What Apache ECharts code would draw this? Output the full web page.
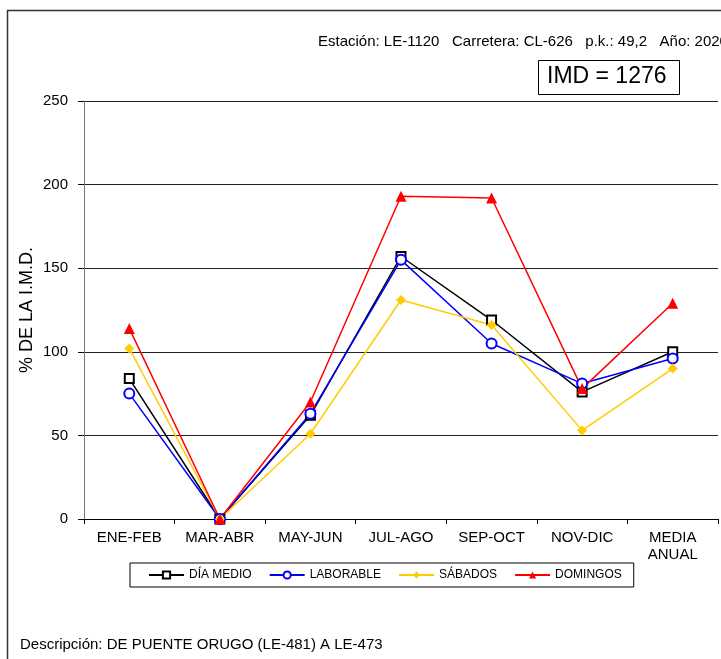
<!DOCTYPE html>
<html>
<head>
<meta charset="utf-8">
<script src="https://cdn.jsdelivr.net/npm/echarts@6/dist/echarts.min.js"></script>
<style>
  html, body { margin: 0; padding: 0; background: #fff; }
  #chart { width: 721px; height: 659px; }
</style>
</head>
<body>
<div id="chart"></div>
<script>
// datos del gráfico (porcentaje de la IMD por periodo)
const categories = ['ENE-FEB', 'MAR-ABR', 'MAY-JUN', 'JUL-AGO', 'SEP-OCT', 'NOV-DIC', 'MEDIA\nANUAL'];
const diaMedio = [84, 0, 62, 157, 119, 76, 100];
const laborable = [75, 0, 63, 155, 105, 81, 96];
const sabados = [102, 0, 51, 131, 116, 53, 90];
const domingos = [114, 0, 70, 193, 192, 78, 129];
const yTicks = [0, 50, 100, 150, 200, 250];

const yName = '% DE LA I.M.D.';
const infoText = 'Estación: LE-1120   Carretera: CL-626   p.k.: 49,2   Año: 2020';
const imdText = 'IMD = 1276';
const descText = 'Descripción: DE PUENTE ORUGO (LE-481) A LE-473';

const chart = echarts.init(document.getElementById('chart'));

function makeSeries(name, data, color, symbol, size) {
    return {
        name: name,
        type: 'line',
        data: data,
        symbol: symbol,
        symbolSize: size,
        lineStyle: { color: color, width: 1.5 },
        itemStyle: { color: color },
        emphasis: { disabled: true },
        animation: false
    };
}

const option = {
    backgroundColor: '#fff',
    textStyle: { fontFamily: 'Liberation Sans, Arial, sans-serif' },
    graphic: [
        {
            type: 'rect',
            shape: { x: 7.5, y: 10.5, width: 800, height: 800 },
            style: { fill: 'none', stroke: '#333', lineWidth: 1.5 }
        },
        {
            type: 'text',
            left: 318, top: 34,
            style: { text: infoText, font: '15px Liberation Sans, Arial', fill: '#000' }
        },
        {
            type: 'rect',
            shape: { x: 538.5, y: 60.5, width: 141, height: 34 },
            style: { fill: '#fff', stroke: '#000', lineWidth: 1 }
        },
        {
            type: 'text',
            left: 547, top: 65,
            style: { text: imdText, font: '23px Liberation Sans, Arial', fill: '#000' }
        },
        {
            // título del eje Y, girado
            type: 'text',
            x: 27, y: 310,
            rotation: Math.PI / 2,
            style: {
                text: yName,
                font: '18px Liberation Sans, Arial',
                fill: '#000',
                align: 'center',
                verticalAlign: 'middle'
            }
        },
        {
            type: 'text',
            left: 20, top: 637,
            style: { text: descText, font: '15px Liberation Sans, Arial', fill: '#000' }
        }
    ],
    grid: {
        left: 84,
        right: 3,
        top: 101,
        bottom: 140,
        containLabel: false
    },
    legend: {
        left: 130,
        top: 563,
        padding: [6, 12, 6, 18],
        borderColor: '#000',
        borderWidth: 1,
        itemWidth: 35,
        itemHeight: 9,
        itemGap: 17,
        textStyle: { fontSize: 12, color: '#000' },
        data: ['DÍA MEDIO', 'LABORABLE', 'SÁBADOS', 'DOMINGOS']
    },
    xAxis: {
        type: 'category',
        data: categories,
        boundaryGap: true,
        axisLine: { lineStyle: { color: '#000', width: 1 } },
        axisTick: { show: true, alignWithLabel: false, length: 5, lineStyle: { color: '#000' } },
        axisLabel: { color: '#000', fontSize: 15, margin: 10, interval: 0, lineHeight: 17 },
        splitLine: { show: false }
    },
    yAxis: {
        type: 'value',
        min: yTicks[0],
        max: yTicks[yTicks.length - 1],
        interval: 50,
        axisLine: { show: true, lineStyle: { color: '#777', width: 1 } },
        axisTick: { show: true, inside: false, length: 6, lineStyle: { color: '#000' } },
        axisLabel: { color: '#000', fontSize: 15, margin: 16 },
        splitLine: { show: true, lineStyle: { color: '#222', width: 1 } }
    },
    series: [
        makeSeries('DÍA MEDIO', diaMedio, '#000000', 'emptyRect', 9),
        makeSeries('LABORABLE', laborable, '#0000ff', 'emptyCircle', 10),
        makeSeries('SÁBADOS', sabados, '#ffcc00', 'diamond', 10),
        makeSeries('DOMINGOS', domingos, '#ff0000', 'triangle', 11)
    ]
};

chart.setOption(option);
</script>
</body>
</html>
